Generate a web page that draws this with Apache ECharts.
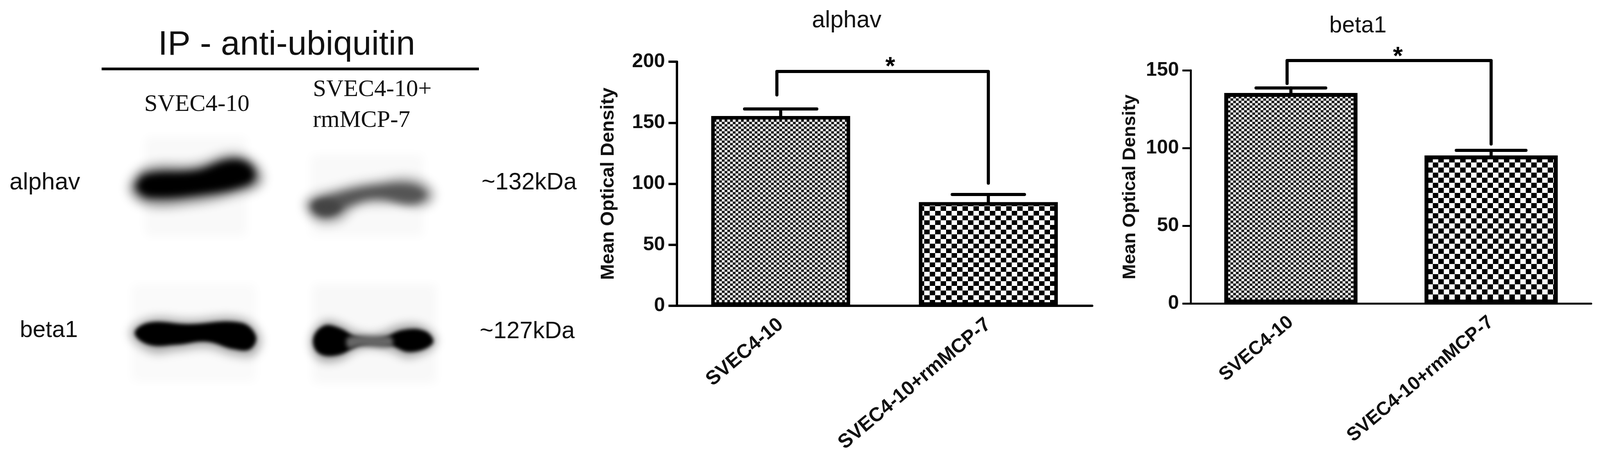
<!DOCTYPE html>
<html><head><meta charset="utf-8">
<style>html,body{margin:0;padding:0;background:#fff;overflow:hidden}#c{width:100vw;height:100vh}</style>
<script src="https://cdn.jsdelivr.net/npm/echarts@6/dist/echarts.min.js"></script>
</head><body><div id="c"></div>
<script>
// ---- data ----
const categories = ['SVEC4-10', 'SVEC4-10+rmMCP-7'];
const alphavMeans = [155.5, 85];
const alphavUpper = [161.3, 91.2];
const alphavBracket = { top: 192, leftEnd: 172.8, rightEnd: 100.5 };
const alphavTicks = { max: 200, interval: 50 };
const beta1Means = [135.4, 95.2];
const beta1Upper = [138.6, 98.5];
const beta1Bracket = { top: 156.3, leftEnd: 141.5, rightEnd: 102.6 };
const beta1Ticks = { max: 150, interval: 50 };
const yName = 'Mean Optical Density';
const panelTitle = 'IP - anti-ubiquitin';

const SANS = '"Liberation Sans", Arial, sans-serif';
const SERIF = '"Liberation Serif", "Times New Roman", serif';

const chart = echarts.init(document.getElementById('c'), null, { renderer: 'canvas', devicePixelRatio: 1 });
// layout is measured on a 4203 wide figure and fitted to the window that is really there
const SX = chart.getWidth() / 4203;
const sx = v => v * SX;
const fs = v => Math.round(v * SX * 10) / 10;

function checker(w, h, dark, light) {
  const c = document.createElement('canvas');
  c.width = w * 2; c.height = h * 2;
  const g = c.getContext('2d');
  g.fillStyle = light; g.fillRect(0, 0, w * 2, h * 2);
  g.fillStyle = dark; g.fillRect(0, 0, w, h); g.fillRect(w, h, w, h);
  return { image: c, repeat: 'repeat' };
}
const fineA = checker(7, 6, '#1a1a1a', '#ececec');
const coarseA = checker(14, 12, '#000', '#fff');
const fineB = checker(7, 6, '#1a1a1a', '#ececec');
const coarseB = checker(14, 13, '#000', '#fff');

// blot shapes, in zoomed picture units, converted to page pixels
const FX = 1568 / 1550, FY = 1568 / 1183;
const pts = a => a.map(p => [sx(p[0] / FX), p[1] / FY]);
function blur(points, color, blurSize, smooth) {
  const OFF = 6000;
  return {
    type: 'polygon', silent: true, x: -OFF, z: 1,
    shape: { points: pts(points), smooth: smooth === undefined ? 0.4 : smooth },
    style: { fill: color, shadowBlur: blurSize, shadowColor: color, shadowOffsetX: OFF }
  };
}
const patch = (x0, y0, x1, y1, col) => blur([[x0, y0], [x1, y0], [x1, y1], [x0, y1]], col, 24, 0);
const blots = [
  patch(385, 465, 655, 800, '#f9f9f9'),
  patch(825, 525, 1125, 800, '#f9f9f9'),
  patch(350, 965, 680, 1295, '#fafafa'),
  patch(830, 965, 1160, 1300, '#f8f8f8'),

  blur([[345,620],[390,565],[520,555],[620,520],[685,560],[695,625],[620,665],[500,695],[400,700],[350,665]], '#999', 26),
  blur([[362,625],[390,590],[520,578],[610,542],[660,555],[678,600],[650,632],[530,662],[400,672],[368,652]], '#000', 20),

  blur([[810,680],[900,635],[1000,610],[1100,600],[1155,650],[1135,700],[1030,695],[950,705],[900,755],[835,750]], '#bbb', 24),
  blur([[825,690],[900,655],[1000,630],[1095,625],[1135,660],[1100,692],[1000,675],[935,695],[885,735],[840,730]], '#555', 20),
  blur([[835,690],[880,680],[905,700],[880,725],[845,720]], '#444', 16),

  blur([[345,1130],[400,1080],[500,1085],[640,1080],[692,1140],[675,1205],[620,1205],[550,1180],[470,1190],[400,1195]], '#aaa', 24),
  blur([[358,1130],[395,1095],[500,1100],[640,1095],[680,1140],[665,1185],[620,1185],[550,1160],[470,1170],[395,1170]], '#000', 10),

  blur([[825,1150],[860,1090],[900,1095],[950,1125],[1000,1130],[1070,1100],[1130,1110],[1160,1165],[1090,1215],[1030,1190],[960,1185],[900,1225],[845,1220]], '#aaa', 22),
  blur([[832,1150],[860,1106],[900,1112],[950,1145],[1000,1155],[1070,1120],[1132,1125],[1150,1165],[1090,1195],[1030,1170],[960,1170],[900,1205],[848,1200]], '#000', 10),
  blur([[925,1145],[1000,1140],[1040,1145],[1040,1175],[960,1175],[925,1180]], '#666', 12)
];

function txt(s, x, y, size, family, align) {
  return {
    type: 'text', x: sx(x), y, z: 5, silent: true,
    style: { text: s, font: fs(size) + 'px ' + family, fill: '#111', textAlign: align || 'left', textVerticalAlign: 'middle' }
  };
}
const labels = [
  txt(panelTitle, 753, 116, 90, SANS, 'center'),
  { type: 'rect', z: 5, silent: true, shape: { x: sx(267), y: 173, width: sx(991), height: 7 }, style: { fill: '#000' } },
  txt(categories[0], 379, 268, 63, SERIF),
  txt('SVEC4-10+', 822, 230, 63, SERIF),
  txt('rmMCP-7', 822, 309, 63, SERIF),
  txt('alphav', 25, 468, 63, SANS),
  txt('beta1', 52, 847, 61, SANS),
  txt('~132kDa', 1265, 468, 62, SANS),
  txt('~127kDa', 1260, 849, 62, SANS)
];

function errorBars(gridIndex, means, upper, capFrac, lw) {
  return {
    type: 'custom', xAxisIndex: gridIndex, yAxisIndex: gridIndex, z: 4, silent: true,
    data: categories.map((c, i) => [i, means[i], upper[i]]),
    renderItem(params, api) {
      const b = api.coord([api.value(0), api.value(1)]);
      const t = api.coord([api.value(0), api.value(2)]);
      const half = api.size([1, 0])[0] * capFrac;
      const st = { stroke: '#000', lineWidth: lw, lineCap: 'round', fill: null };
      return { type: 'group', children: [
        { type: 'line', shape: { x1: b[0], y1: b[1], x2: t[0], y2: t[1] }, style: st },
        { type: 'line', shape: { x1: t[0] - half, y1: t[1], x2: t[0] + half, y2: t[1] }, style: st }
      ] };
    }
  };
}
function bracket(gridIndex, br, leftShift, starShift, starLift, lw) {
  return {
    type: 'custom', xAxisIndex: gridIndex, yAxisIndex: gridIndex, z: 4, silent: true,
    data: [[0, br.leftEnd, 1, br.rightEnd, br.top]],
    renderItem(params, api) {
      const l = api.coord([api.value(0), api.value(1)]);
      const r = api.coord([api.value(2), api.value(3)]);
      const top = api.coord([api.value(0), api.value(4)])[1];
      const lx = l[0] + sx(leftShift);
      return { type: 'group', children: [
        { type: 'polyline',
          shape: { points: [[lx, l[1]], [lx, top], [r[0], top], [r[0], r[1]]] },
          style: { stroke: '#000', lineWidth: lw, lineCap: 'round', lineJoin: 'round', fill: null } },
        { type: 'text', x: (lx + r[0]) / 2 + sx(starShift), y: top - starLift,
          style: { text: '*', font: 'bold ' + fs(66) + 'px ' + SANS, fill: '#000', textAlign: 'center', textVerticalAlign: 'middle' } }
      ] };
    }
  };
}
function xAxis(gridIndex, size, lw) {
  return {
    type: 'category', gridIndex, data: categories,
    axisLine: { lineStyle: { color: '#000', width: lw } },
    axisTick: { alignWithLabel: true, length: 20, lineStyle: { color: '#000', width: lw } },
    axisLabel: { interval: 0, rotate: 40, margin: 42, color: '#111', fontFamily: SANS, fontWeight: 'bold', fontSize: fs(size) }
  };
}
function yAxis(gridIndex, ticks, size, nameSize, gap, lw) {
  return {
    type: 'value', gridIndex, min: 0, max: ticks.max, interval: ticks.interval,
    name: yName, nameLocation: 'middle', nameGap: sx(gap),
    nameTextStyle: { color: '#111', fontFamily: SANS, fontWeight: 'bold', fontSize: fs(nameSize) },
    splitLine: { show: false },
    axisLine: { show: true, lineStyle: { color: '#000', width: lw } },
    axisTick: { show: true, length: sx(22), lineStyle: { color: '#000', width: lw } },
    axisLabel: { margin: sx(31), color: '#111', fontFamily: SANS, fontWeight: 'bold', fontSize: fs(size) }
  };
}
function bars(gridIndex, means, fine, coarse, width, bw) {
  return {
    type: 'bar', xAxisIndex: gridIndex, yAxisIndex: gridIndex, barWidth: sx(width), z: 2, silent: true,
    data: means.map((v, i) => ({
      value: v,
      itemStyle: { color: i === 0 ? fine : coarse, borderColor: '#000', borderWidth: bw }
    }))
  };
}

chart.setOption({
  animation: false,
  backgroundColor: '#fff',
  title: [
    { text: 'alphav', left: sx(2219), top: 18, textAlign: 'center',
      textStyle: { fontFamily: SANS, fontWeight: 'normal', fontSize: fs(62), color: '#111' } },
    { text: 'beta1', left: sx(3562), top: 32, textAlign: 'center',
      textStyle: { fontFamily: SANS, fontWeight: 'normal', fontSize: fs(60), color: '#111' } }
  ],
  grid: [
    { left: sx(1778), width: sx(1091), top: 158, height: 625 },
    { left: sx(3128), width: sx(1052), top: 180, height: 597 }
  ],
  xAxis: [xAxis(0, 52, 6), xAxis(1, 50, 5)],
  yAxis: [yAxis(0, alphavTicks, 52, 50, 155, 6), yAxis(1, beta1Ticks, 52, 48, 135, 5)],
  series: [
    bars(0, alphavMeans, fineA, coarseA, 365, 9),
    errorBars(0, alphavMeans, alphavUpper, 0.174, 8),
    bracket(0, alphavBracket, -10, 20, 10, 8),
    bars(1, beta1Means, fineB, coarseB, 350, 10),
    errorBars(1, beta1Means, beta1Upper, 0.174, 8),
    bracket(1, beta1Bracket, -10, 23, 8, 8)
  ],
  graphic: { elements: blots.concat(labels) }
});
</script></body></html>
